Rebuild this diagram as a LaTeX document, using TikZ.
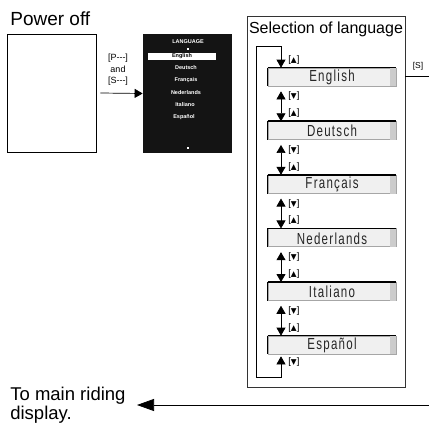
\documentclass[tikz,border=0pt]{standalone}
\usepackage{fontspec}
\setmainfont{Liberation Sans}
\newfontfamily\sym{DejaVu Sans}
\newfontfamily\lcd[FakeStretch=0.72,LetterSpace=8]{Liberation Sans}
\usetikzlibrary{arrows.meta}
\begin{document}
\begin{tikzpicture}[x=1pt,y=-1pt,line width=0.7pt,
  big/.style={font=\fontsize{19}{21}\selectfont, inner sep=0},
  lang/.style={draw=gray!70, fill=gray!12, minimum width=128pt, minimum height=18pt, inner sep=0, font=\lcd\fontsize{16}{16}\selectfont},
  keylbl/.style={font=\fontsize{9.5}{9.5}\selectfont, inner sep=0, anchor=west},
  small/.style={font=\fontsize{9}{9}\selectfont, inner sep=0},
  scrtxt/.style={font=\fontsize{5.5}{5.5}\selectfont\bfseries, text=white, inner sep=0},
  tipend/.style={-{Triangle[length=8pt,width=9pt]}},
  tipboth/.style={{Triangle[length=8pt,width=9pt]}-{Triangle[length=8pt,width=9pt]}}]
\useasboundingbox (0,0) rectangle (429,423);
\newcommand{\up}{[{\sym\fontsize{7.5}{7.5}\selectfont ▲}]}
\newcommand{\dn}{[{\sym\fontsize{7.5}{7.5}\selectfont ▼}]}
% power off
\node[big, anchor=base west] (pofftxt) at (10,26) {Power off};
\node[draw, minimum width=89pt, minimum height=118pt, inner sep=0] (off) at (51.5,93) {};
% keys
\node[small] (kp) at (118,58) {[P-{}-{}-]};
\node[small] (kand) at (118,69.5) {and};
\node[small] (ks) at (118,81) {[S-{}-{}-]};
% screen
\node[fill=black!92, minimum width=89pt, minimum height=119pt, inner sep=0] (scr) at (187.5,93.5) {};
\draw[tipend] ([xshift=4pt]off.east) -- (scr.west);
\node[scrtxt] (sh) at (188,41.5) {LANGUAGE};
\node[fill=white, minimum size=2pt, inner sep=0] (sd1) at (188,49) {};
\node[fill=white, minimum width=68pt, minimum height=7pt, inner sep=0, font=\fontsize{5.5}{5.5}\selectfont\bfseries] (sbar) at (182,56) {English};
\node[scrtxt] (s2) at (186,68) {Deutsch};
\node[scrtxt] (s3) at (186,80) {Fran\c{c}ais};
\node[scrtxt] (s4) at (186,92.5) {Nederlands};
\node[scrtxt] (s5) at (185,105) {Italiano};
\node[scrtxt] (s6) at (184,117) {Espa\~nol};
\node[fill=white, minimum size=2pt, inner sep=0] (sd2) at (188,148) {};
% selection box
\node[draw=black!80, minimum width=158pt, minimum height=371pt, inner sep=0] (sel) at (326,201.5) {};
\node[font=\fontsize{16}{16}\selectfont, inner sep=0, anchor=base] (seltitle) at (326,33) {Selection of language};
\foreach \name/\txt [count=\i from 0] in {en/English, de/Deutsch, fr/Fran\c{c}ais, nl/Nederlands, it/Italiano, es/Espa\~nol} {
  \node[lang] (\name) at (332,{77+53.6*\i}) {};
  \fill[gray!40] ([xshift=-6pt]\name.north east) rectangle (\name.south east);
  \draw[line width=1.6pt] (\name.north west) -- (\name.north east);
  \draw[line width=0.9pt] (\name.north west) -- (\name.south west);
  \node[font=\lcd\fontsize{16}{16}\selectfont, inner sep=0, text=black!85] (\name t) at ([yshift=-0.5pt]\name.center) {\txt};
}
\foreach \a/\b in {en/de, de/fr, fr/nl, nl/it, it/es} {
  \draw[tipboth] ([xshift=-51pt,yshift=-5pt]\a.south) -- ([xshift=-51pt]\b.north);
  \node[keylbl] (dl\a) at ([xshift=-44pt,yshift=-10pt]\a.south) {\dn};
  \node[keylbl] (ul\b) at ([xshift=-44pt,yshift=8pt]\b.north) {\up};
}
\node[keylbl] (ulen) at ([xshift=-44pt,yshift=8pt]en.north) {\up};
\node[keylbl] (dles) at ([xshift=-44pt,yshift=-8pt]es.south) {\dn};
\coordinate (lt) at (256,46);
\coordinate (lb) at (256,377);
\draw (lb) -- (lt);
\draw[tipend] (lt) -| ([xshift=-51pt]en.north);
\draw[tipend, shorten >=2pt] (lb) -| ([xshift=-51pt]es.south);
% [S] to main display
\node[font=\fontsize{8.5}{8.5}\selectfont, inner sep=0] (sk) at (418,66.5) {[S]};
\coordinate (sout) at (405,76);
\coordinate (mainpt) at (137,405);
\begin{scope}
\clip (0,0) rectangle (429,423);
\draw[-{Triangle[length=17pt,width=12pt]}] (sout) -- (440,76) -- (440,405) -- (mainpt);
\end{scope}
\node[big, anchor=base west, font=\fontsize{18.5}{19}\selectfont] (maintxt) at (10,400) {To main riding};
\node[big, anchor=base west, font=\fontsize{18.5}{19}\selectfont] (maintxt2) at (10,419) {display.};
\end{tikzpicture}
\end{document}
